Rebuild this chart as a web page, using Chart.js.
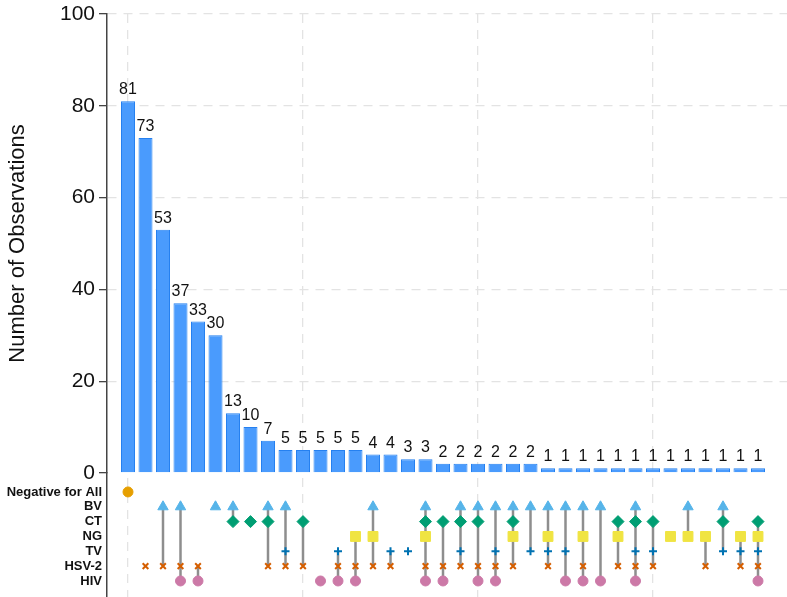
<!DOCTYPE html>
<html>
<head>
<meta charset="utf-8">
<title>UpSet plot</title>
<script src="https://cdn.jsdelivr.net/npm/chart.js@4.4.1/dist/chart.umd.min.js"></script>
<style>
  html, body { margin: 0; padding: 0; background: #fff; overflow: hidden; }
  canvas { display: block; }
</style>
</head>
<body>
<canvas id="upset" width="787" height="597"></canvas>
<script>
// intersection sizes, one per column (sorted as in the figure)
const counts = [81, 73, 53, 37, 33, 30, 13, 10, 7, 5, 5, 5, 5, 5, 4, 4, 3, 3,
  2, 2, 2, 2, 2, 2, 1, 1, 1, 1, 1, 1, 1, 1, 1, 1, 1, 1, 1];

// matrix rows, top to bottom, and the one-letter code used in combos
const setNames = ['Negative for All', 'BV', 'CT', 'NG', 'TV', 'HSV-2', 'HIV'];
const setCodes = ['N', 'B', 'C', 'G', 'T', 'S', 'H'];

// which sets make up each column
const combos = ['N', 'S', 'BS', 'BSH', 'SH', 'B', 'BC', 'C', 'BCS', 'BTS', 'CS', 'H',
  'TSH', 'GSH', 'BGS', 'TS', 'T', 'BCGSH', 'CSH', 'BCTS', 'BCSH', 'BTSH', 'BCGS',
  'BT', 'BGTS', 'BTH', 'BGSH', 'BH', 'CGS', 'BCTSH', 'CTS', 'G', 'BG', 'GS', 'BCT',
  'GTS', 'CGTSH'];

const yTicks = [0, 20, 40, 60, 80, 100];
const xGridAt = [0, 10, 20, 30];

// marker look per row
const rowStyle = [
  { pointStyle: 'circle',   radius: 5, color: '#E69F00' },
  { pointStyle: 'triangle', radius: 6, color: '#56B4E9' },
  { pointStyle: 'rectRot',  radius: 6, color: '#009E73' },
  { pointStyle: 'rect',     radius: 7, color: '#F0E442' },
  { pointStyle: 'cross',    radius: 4, color: '#0072B2', line: 2 },
  { pointStyle: 'crossRot', radius: 4, color: '#D55E00', line: 2 },
  { pointStyle: 'circle',   radius: 5, color: '#CC79A7' }
];

const FONT = '"Liberation Sans", Arial, Helvetica, sans-serif';
const GRID = '#e3e3e3';

function rowsOf(code) {
  return setCodes.map((c, r) => code.includes(c) ? r : -1).filter(r => r >= 0);
}

// fixed axis width, and no extra padding pushed into the layout
function fitLeft(ax) {
  ax.width = 107;
  ax.paddingTop = 0; ax.paddingBottom = 0;
  ax.paddingLeft = 0; ax.paddingRight = 0;
}

const datasets = [];

datasets.push({
  type: 'bar',
  label: 'Observations',
  data: counts.map((c, i) => ({ x: i, y: c })),
  yAxisID: 'y',
  backgroundColor: '#4a9bfd',
  borderColor: '#2580f0',
  borderWidth: 1,
  barPercentage: 0.8,
  categoryPercentage: 1,
  order: 3
});

// connector line per column, from first to last member row
combos.forEach((code, i) => {
  const rows = rowsOf(code);
  if (rows.length < 2) return;
  datasets.push({
    type: 'line',
    data: [{ x: i, y: rows[0] }, { x: i, y: rows[rows.length - 1] }],
    yAxisID: 'm',
    borderColor: '#8e8e8e',
    borderWidth: 2.5,
    pointRadius: 0,
    order: 2
  });
});

// one scatter series per set
setNames.forEach((name, r) => {
  const st = rowStyle[r];
  datasets.push({
    type: 'scatter',
    label: name,
    data: combos.map((code, i) => rowsOf(code).includes(r) ? { x: i, y: r } : null).filter(Boolean),
    yAxisID: 'm',
    pointStyle: st.pointStyle,
    pointRadius: st.radius,
    backgroundColor: st.color,
    borderColor: st.color,
    pointBorderWidth: st.line || 1,
    order: 1
  });
});

const barLabels = {
  id: 'barLabels',
  afterDatasetsDraw(chart) {
    const meta = chart.getDatasetMeta(0);
    const ctx = chart.ctx;
    ctx.save();
    ctx.font = '16px ' + FONT;
    ctx.fillStyle = '#111';
    ctx.textAlign = 'center';
    ctx.textBaseline = 'alphabetic';
    meta.data.forEach((bar, i) => ctx.fillText(String(counts[i]), bar.x, bar.y - 7));
    ctx.restore();
  }
};

new Chart(document.getElementById('upset'), {
  type: 'bar',
  data: { datasets },
  plugins: [barLabels],
  options: {
    responsive: false,
    animation: false,
    layout: { autoPadding: false, padding: { top: 14, right: 0, bottom: 0, left: 0 } },
    plugins: { legend: { display: false }, tooltip: { enabled: false } },
    scales: {
      x: {
        type: 'linear',
        offset: false,
        min: -1.2,
        max: 37.657,
        afterBuildTicks: ax => { ax.ticks = xGridAt.map(v => ({ value: v })); },
        ticks: { display: false },
        grid: { color: GRID, lineWidth: 1.3, drawTicks: false, offset: false },
        border: { display: false, dash: [9, 7] }
      },
      m: {
        type: 'linear',
        position: 'left',
        stack: 'left',
        stackWeight: 1,
        reverse: true,
        min: -1.28,
        max: 7.08,
        afterBuildTicks: ax => { ax.ticks = setNames.map((n, r) => ({ value: r })); },
        afterFit: fitLeft,
        ticks: {
          autoSkip: false,
          font: { family: FONT, size: 13, weight: 'bold' },
          color: '#111',
          padding: 5,
          callback: v => setNames[v]
        },
        grid: { display: false, drawTicks: false },
        border: { display: true, color: '#444', width: 1.5 }
      },
      y: {
        type: 'linear',
        position: 'left',
        stack: 'left',
        stackWeight: 3.7,
        min: 0,
        max: 100,
        afterBuildTicks: ax => { ax.ticks = yTicks.map(v => ({ value: v })); },
        afterFit: fitLeft,
        ticks: { font: { family: FONT, size: 21 }, color: '#111', padding: 4 },
        grid: {
          color: ctx => ctx.tick && ctx.tick.value === 0 ? 'rgba(0,0,0,0)' : GRID,
          lineWidth: 1.3,
          tickColor: '#444',
          tickLength: 8,
          tickWidth: 1.3
        },
        border: { display: true, color: '#444', width: 1.5, dash: [9, 7] },
        title: {
          display: true,
          text: 'Number of Observations',
          font: { family: FONT, size: 22 },
          color: '#111',
          padding: { top: 5, bottom: 0 }
        }
      }
    }
  }
});
</script>
</body>
</html>
